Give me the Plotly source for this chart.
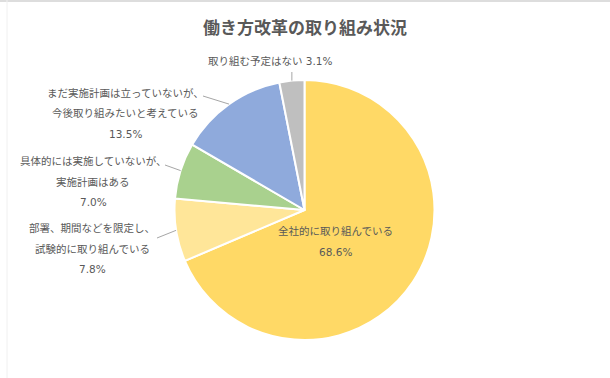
import math
import plotly.graph_objects as go

# ---- data ----
labels = ["全社的に取り組んでいる",
          "部署、期間などを限定し、試験的に取り組んでいる",
          "具体的には実施していないが、実施計画はある",
          "まだ実施計画は立っていないが、今後取り組みたいと考えている",
          "取り組む予定はない"]
values = [68.6, 7.8, 7.0, 13.5, 3.1]
label_lines = [
    ["全社的に取り組んでいる", "68.6%"],
    ["部署、期間などを限定し、", "試験的に取り組んでいる", "7.8%"],
    ["具体的には実施していないが、", "実施計画はある", "7.0%"],
    ["まだ実施計画は立っていないが、", "今後取り組みたいと考えている", "13.5%"],
    ["取り組む予定はない 3.1%"],
]
colors = ["#FFD966", "#FFE699", "#A9D18E", "#8FAADC", "#BFBFBF"]
title = "働き方改革の取り組み状況"

# ---- layout constants (pixels) ----
W, H = 610, 378
CX, CY, R = 304.5, 210.0, 130.0
TXT = "#595959"
FONT = "Noto Sans CJK JP"
LFONT = "DejaVu Sans, Noto Sans CJK JP"
# label anchor (center x, first line y), and leader-line outer end point
label_pos = [(335, 231), (92, 228), (93, 161), (125, 93), (270, 61)]
leader_out = [None, (157, 238), (165, 165), (203, 96), None]
leader_gray_top = 72
LINE_GAP = 20.5

def px(x):
    return x / W

def py(y):
    return 1 - y / H

fig = go.Figure(go.Pie(
    labels=labels, values=values, sort=False, direction="clockwise",
    rotation=0, textinfo="none", hoverinfo="label+percent",
    marker=dict(colors=colors, line=dict(color="white", width=2)),
    domain=dict(x=[px(CX - R), px(CX + R)], y=[py(CY + R), py(CY - R)]),
    showlegend=False,
))

annotations = [dict(text=f"<b>{title}</b>", x=px(305), y=py(27), xref="paper", yref="paper",
                    showarrow=False, xanchor="center", yanchor="middle",
                    font=dict(family=FONT, size=17, color=TXT))]
for (lx, ly), lines in zip(label_pos, label_lines):
    for k, t in enumerate(lines):
        annotations.append(dict(text=t, x=px(lx), y=py(ly + k * LINE_GAP), xref="paper", yref="paper",
                                showarrow=False, xanchor="center", yanchor="middle",
                                font=dict(family=LFONT, size=10.5, color=TXT)))

shapes = []
total = sum(values)
cum = 0.0
for i, v in enumerate(values):
    mid = (cum + v / 2) / total * 2 * math.pi
    cum += v
    ex = CX + R * math.sin(mid)
    ey = CY - R * math.cos(mid)
    if i == 0:
        continue
    if leader_out[i] is None:
        ox, oy = ex, leader_gray_top
    else:
        ox, oy = leader_out[i]
    shapes.append(dict(type="line", xref="paper", yref="paper",
                       x0=px(ox), y0=py(oy), x1=px(ex), y1=py(ey),
                       line=dict(color="#A6A6A6", width=1)))

# faint frame lines
shapes.append(dict(type="line", xref="paper", yref="paper", x0=0, x1=1, y0=py(1), y1=py(1),
                   line=dict(color="#DDDDDD", width=2)))
shapes.append(dict(type="line", xref="paper", yref="paper", x0=px(7), x1=px(7), y0=0, y1=1,
                   line=dict(color="#F0F0F0", width=1)))

fig.update_layout(
    width=W, height=H, margin=dict(l=0, r=0, t=0, b=0),
    paper_bgcolor="white", plot_bgcolor="white",
    annotations=annotations, shapes=shapes,
    font=dict(family=FONT, color=TXT),
)
fig.write_html("out.html")
